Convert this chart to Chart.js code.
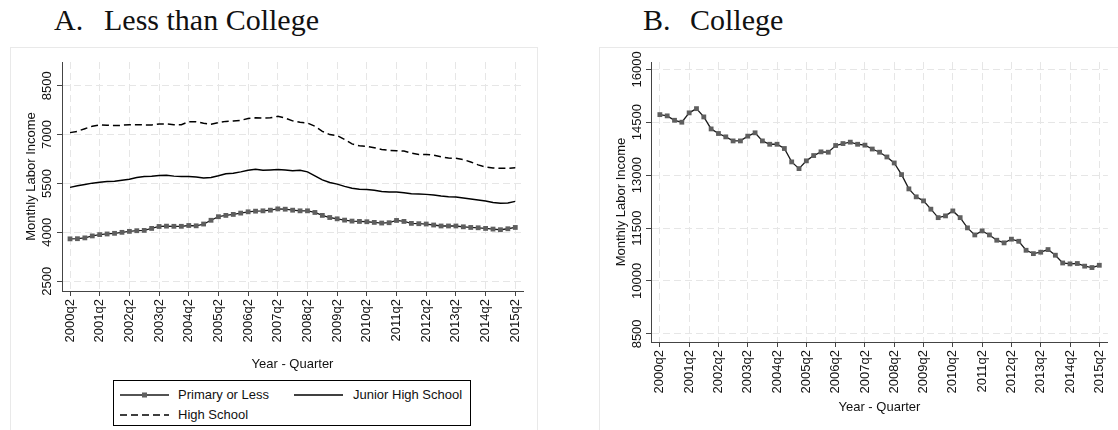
<!DOCTYPE html>
<html>
<head>
<meta charset="utf-8">
<script src="https://cdn.jsdelivr.net/npm/chart.js@4.4.1/dist/chart.umd.min.js"></script>
<style>
  body { margin: 0; background: #fff; width: 1118px; height: 430px; overflow: hidden; position: relative;
         font-family: "Liberation Sans", Arial, sans-serif; color: #111; }
  .box { position: absolute; border: 1px solid #e9e9e9; box-sizing: border-box; }
  .title { position: absolute; top: 2px; font-family: "Liberation Serif", "Times New Roman", serif;
           font-size: 30px; line-height: 36px; color: #111; white-space: pre; }
  canvas { position: absolute; top: 0; }
  .legend { position: absolute; left: 113px; top: 380px; width: 358px; height: 46px;
            border: 1px solid #000; box-sizing: border-box; background: #fff; font-size: 13px; }
  .legend svg { position: absolute; }
  .legend span { position: absolute; line-height: 15px; white-space: pre; }
</style>
</head>
<body>
<div class="box" style="left:10px; top:47px; width:528px; height:400px;"></div>
<div class="box" style="left:599px; top:47px; width:540px; height:400px;"></div>

<div class="title" style="left:54px;">A.</div>
<div class="title" style="left:104px;">Less than College</div>
<div class="title" style="left:643px;">B.</div>
<div class="title" style="left:690px;">College</div>

<canvas id="chartA" width="560" height="430" style="left:0;"></canvas>
<canvas id="chartB" width="558" height="430" style="left:560px;"></canvas>

<div class="legend">
  <svg style="left:6px; top:7px;" width="50" height="14">
    <line x1="0" y1="7" x2="49" y2="7" stroke="#1a1a1a" stroke-width="1.4"/>
    <rect x="22" y="4.5" width="5" height="5" fill="#5f5f5f"/>
  </svg>
  <span style="left:64px; top:6px;">Primary or Less</span>
  <svg style="left:180px; top:7px;" width="50" height="14">
    <line x1="0" y1="7" x2="49" y2="7" stroke="#000" stroke-width="1.5"/>
  </svg>
  <span style="left:239px; top:6px;">Junior High School</span>
  <svg style="left:6px; top:27px;" width="50" height="14">
    <line x1="0" y1="7" x2="49" y2="7" stroke="#000" stroke-width="1.5" stroke-dasharray="7 4"/>
  </svg>
  <span style="left:64px; top:26px;">High School</span>
</div>

<script>
// quarterly series, 2000q2 .. 2015q2 (61 quarters, x = quarter index)
const tickLabels = ['2000q2', '2001q2', '2002q2', '2003q2', '2004q2', '2005q2', '2006q2', '2007q2',
                    '2008q2', '2009q2', '2010q2', '2011q2', '2012q2', '2013q2', '2014q2', '2015q2'];

const primaryOrLess = [
  3800, 3805, 3830, 3890, 3930, 3950, 3970, 4000, 4030, 4050,
  4060, 4120, 4180, 4190, 4185, 4185, 4210, 4200, 4255, 4370,
  4480, 4520, 4550, 4590, 4630, 4650, 4660, 4680, 4720, 4710,
  4680, 4660, 4660, 4610, 4520, 4455, 4415, 4375, 4345, 4335,
  4325, 4305, 4285, 4295, 4365, 4335, 4275, 4265, 4255, 4225,
  4195, 4195, 4195, 4170, 4150, 4140, 4120, 4100, 4080, 4110,
  4150
];
const juniorHigh = [
  5380, 5430, 5470, 5510, 5540, 5560, 5570, 5600, 5630, 5680,
  5710, 5720, 5745, 5755, 5725, 5715, 5715, 5695, 5665, 5685,
  5735, 5795, 5815, 5855, 5905, 5935, 5905, 5915, 5925, 5915,
  5890, 5905, 5855, 5735, 5610, 5530, 5480, 5410, 5350, 5320,
  5315, 5290, 5255, 5235, 5235, 5215, 5185, 5175, 5165, 5145,
  5115, 5095, 5085, 5055, 5025, 4995, 4965, 4915, 4890, 4900,
  4950
];
const highSchool = [
  7060, 7100, 7180, 7255, 7295, 7285, 7275, 7285, 7305, 7305,
  7295, 7295, 7325, 7325, 7305, 7305, 7395, 7395, 7345, 7315,
  7365, 7405, 7415, 7435, 7495, 7515, 7505, 7515, 7560, 7505,
  7420, 7375, 7355, 7255, 7100, 7000, 6970, 6850, 6715, 6655,
  6635, 6595, 6545, 6515, 6505, 6495, 6430, 6390, 6390, 6370,
  6320, 6280, 6270, 6230, 6160, 6070, 6005, 5975, 5965, 5965,
  5985
];
const college = [
  14715, 14680, 14555, 14500, 14765, 14885, 14650, 14310, 14180, 14085,
  13970, 13970, 14105, 14200, 13970, 13875, 13875, 13755, 13375, 13185,
  13405, 13555, 13660, 13650, 13840, 13895, 13935, 13875, 13850, 13740,
  13650, 13515, 13345, 13015, 12610, 12385, 12270, 12035, 11795, 11845,
  11985, 11795, 11505, 11305, 11420, 11305, 11155, 11080, 11185, 11125,
  10870, 10775, 10815, 10890, 10730, 10510, 10485, 10495, 10420, 10380,
  10445
];

const yTicksA = [2500, 4000, 5500, 7000, 8500];
const yTicksB = [8500, 10000, 11500, 13000, 14500, 16000];

const axisColor = '#444';
const gridColor = '#e6e6e6';
const textColor = '#111';
const font13 = { family: '"Liberation Sans", Arial, sans-serif', size: 13 };

const toPoints = arr => arr.map((v, i) => ({ x: i, y: v }));

function panelOptions(p) {
  return {
    responsive: false,
    animation: false,
    devicePixelRatio: 1,
    layout: { padding: p.padding },
    plugins: { legend: { display: false }, tooltip: { enabled: false } },
    elements: { line: { tension: 0 } },
    scales: {
      x: {
        type: 'linear',
        min: p.xMin,
        max: p.xMax,
        afterBuildTicks: axis => { axis.ticks = tickLabels.map((_, k) => ({ value: k * 4 })); },
        afterFit: axis => { axis.height = p.xHeight; },
        grid: { color: gridColor, lineWidth: 1, tickColor: axisColor, tickLength: 5 },
        border: { color: axisColor, width: 1, dash: [7, 4] },
        ticks: {
          autoSkip: false, minRotation: 90, maxRotation: 90, padding: 3,
          color: textColor, font: font13,
          callback: v => tickLabels[Math.round(v / 4)]
        },
        title: { display: true, text: 'Year - Quarter', color: textColor, font: font13,
                 padding: { top: 0, bottom: p.xTitlePad } }
      },
      y: {
        min: p.yMin,
        max: p.yMax,
        afterBuildTicks: axis => { axis.ticks = p.yTicks.map(v => ({ value: v })); },
        afterFit: axis => { axis.width = p.yWidth; },
        grid: { color: gridColor, lineWidth: 1, tickColor: axisColor, tickLength: 5 },
        border: { color: axisColor, width: 1, dash: [7, 4] },
        ticks: {
          minRotation: 90, maxRotation: 90, crossAlign: 'center', padding: p.yTickPad,
          color: textColor, font: font13,
          callback: v => String(v)
        },
        title: { display: true, text: 'Monthly Labor Income', color: textColor, font: font13,
                 padding: { top: p.yTitlePad, bottom: 0 } }
      }
    }
  };
}

new Chart(document.getElementById('chartA'), {
  type: 'line',
  data: {
    datasets: [
      {
        label: 'Primary or Less',
        data: toPoints(primaryOrLess),
        borderColor: '#1a1a1a', borderWidth: 1.3,
        pointStyle: 'rect', pointRadius: 3.4, pointBorderWidth: 0,
        pointBackgroundColor: '#5f5f5f'
      },
      {
        label: 'Junior High School',
        data: toPoints(juniorHigh),
        borderColor: '#000', borderWidth: 1.5, pointRadius: 0
      },
      {
        label: 'High School',
        data: toPoints(highSchool),
        borderColor: '#000', borderWidth: 1.5, borderDash: [7, 4], pointRadius: 0
      }
    ]
  },
  options: panelOptions({
    padding: { left: 0, top: 62, right: 37, bottom: 0 },
    yWidth: 62, xHeight: 139,
    xMin: -1.08, xMax: 61.04,
    yMin: 2200, yMax: 9227, yTicks: yTicksA,
    xTitlePad: 58, yTitlePad: 24, yTickPad: -5
  })
});

new Chart(document.getElementById('chartB'), {
  type: 'line',
  data: {
    datasets: [
      {
        label: 'College',
        data: toPoints(college),
        borderColor: '#1a1a1a', borderWidth: 1.3,
        pointStyle: 'rect', pointRadius: 3.4, pointBorderWidth: 0,
        pointBackgroundColor: '#5f5f5f'
      }
    ]
  },
  options: panelOptions({
    padding: { left: 30, top: 62, right: 5, bottom: 0 },
    yWidth: 61, xHeight: 88,
    xMin: -1.21, xMax: 61.17,
    yMin: 8270, yMax: 16207, yTicks: yTicksB,
    xTitlePad: 15, yTitlePad: 24, yTickPad: -9
  })
});
</script>
</body>
</html>
